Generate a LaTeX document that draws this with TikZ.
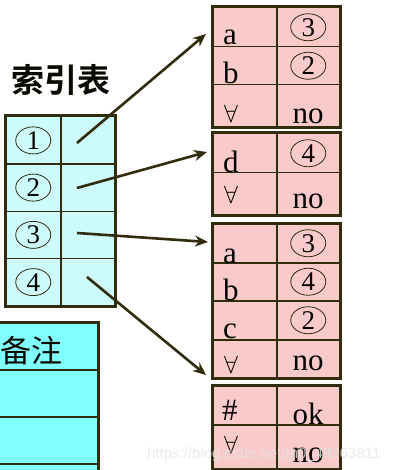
\documentclass[tikz,border=0pt]{standalone}
\usepackage{fontspec}
\setmainfont{Liberation Serif}
\newfontfamily\cjkb{Noto Sans CJK SC Bold}
\newfontfamily\cjk{Noto Sans CJK SC}
\newfontfamily\wmfont{Liberation Sans}
\usetikzlibrary{arrows.meta,shapes.geometric}
\definecolor{edge}{RGB}{48,44,12}
\definecolor{pinkc}{RGB}{248,202,202}
\definecolor{lcyan}{RGB}{205,250,250}
\definecolor{bcyan}{RGB}{128,255,255}
\tikzset{
  cell/.style={draw=edge, line width=1.5pt, inner sep=0pt, anchor=north west},
  pcell/.style={cell, fill=pinkc},
  icell/.style={cell, fill=lcyan},
  bcell/.style={cell, fill=bcyan},
  frame/.style={draw=edge, line width=3pt},
  cnum/.style={draw=edge, line width=0.8pt, ellipse, minimum width=35pt, minimum height=27pt, inner sep=0pt, font=\fontsize{27}{27}\selectfont, text=black!90!edge},
  let/.style={anchor=base west, inner sep=0pt, font=\fontsize{31}{31}\selectfont, text=black!90!edge},
  fa/.style={let, font=\fontsize{29}{29}\selectfont},
  rwd/.style={anchor=base, inner sep=0pt, font=\fontsize{31}{31}\selectfont, text=black!90!edge},
  link/.style={draw=edge, line width=2.6pt, -{Stealth[length=13pt,width=11pt]}},
}
\begin{document}
\begin{tikzpicture}[x=1pt,y=-1pt]
\useasboundingbox (0,0) rectangle (402,470);
\clip (0,0) rectangle (402,470);
\fill[white] (0,0) rectangle (402,470);

% title
\node[font=\cjkb\fontsize{33}{33}\selectfont, text=black!80!edge, inner sep=0pt] (title) at (61,80) {索引表};

% index table
\foreach \i/\ya/\yb in {1/116/163.25,2/163.25/210.5,3/210.5/257.75,4/257.75/305}{
  \node[icell, minimum width=55pt, minimum height={\yb-\ya}] (il\i) at (5,\ya) {};
  \node[icell, minimum width=54pt, minimum height={\yb-\ya}] (ir\i) at (60,\ya) {};
  \node[cnum] (in\i) at (il\i.center) {\i};
}
\draw[frame] (il1.north west) rectangle (ir4.south east);

% bottom-left table
\foreach \i/\ya in {1/322,2/369,3/416,4/463}{
  \node[bcell, minimum width=117pt, minimum height=47pt] (bt\i) at (-20,\ya) {};
}
\draw[frame] (bt1.north west) rectangle (bt4.south east);
\node[font=\cjk\fontsize{31}{31}\selectfont, text=black!80!edge, inner sep=0pt] (bz) at (31,351) {备注};

% T1
\node[pcell, minimum width=64pt, minimum height=39pt] (a1l) at (212,7) {};
\node[pcell, minimum width=63pt, minimum height=39pt] (a1r) at (276,7) {};
\node[pcell, minimum width=64pt, minimum height=38pt] (a2l) at (212,46) {};
\node[pcell, minimum width=63pt, minimum height=38pt] (a2r) at (276,46) {};
\node[pcell, minimum width=64pt, minimum height=42pt] (a3l) at (212,84) {};
\node[pcell, minimum width=63pt, minimum height=42pt] (a3r) at (276,84) {};
\draw[frame] (a1l.north west) rectangle (a3r.south east);
\node[let] (a1t) at (223,45) {a};
\node[cnum] (a1n) at (a1r.center) {3};
\node[let] (a2t) at (223,84) {b};
\node[cnum] (a2n) at (a2r.center) {2};
\node[fa] (a3t) at (224,123) {$\forall$};
\node[rwd] (a3n) at (308,124) {no};

% T2
\node[pcell, minimum width=64pt, minimum height=39pt] (b1l) at (212,133) {};
\node[pcell, minimum width=63pt, minimum height=39pt] (b1r) at (276,133) {};
\node[pcell, minimum width=64pt, minimum height=42pt] (b2l) at (212,172) {};
\node[pcell, minimum width=63pt, minimum height=42pt] (b2r) at (276,172) {};
\draw[frame] (b1l.north west) rectangle (b2r.south east);
\node[let] (b1t) at (223,173) {d};
\node[cnum] (b1n) at (b1r.center) {4};
\node[fa] (b2t) at (224,204) {$\forall$};
\node[rwd] (b2n) at (308,208) {no};

% T3
\node[pcell, minimum width=64pt, minimum height=39pt] (c1l) at (212,223) {};
\node[pcell, minimum width=63pt, minimum height=39pt] (c1r) at (276,223) {};
\node[pcell, minimum width=64pt, minimum height=38pt] (c2l) at (212,262) {};
\node[pcell, minimum width=63pt, minimum height=38pt] (c2r) at (276,262) {};
\node[pcell, minimum width=64pt, minimum height=39pt] (c3l) at (212,300) {};
\node[pcell, minimum width=63pt, minimum height=39pt] (c3r) at (276,300) {};
\node[pcell, minimum width=64pt, minimum height=38pt] (c4l) at (212,339) {};
\node[pcell, minimum width=63pt, minimum height=38pt] (c4r) at (276,339) {};
\draw[frame] (c1l.north west) rectangle (c4r.south east);
\node[let] (c1t) at (223,263) {a};
\node[cnum] (c1n) at (c1r.center) {3};
\node[let] (c2t) at (223,300) {b};
\node[cnum] (c2n) at (c2r.center) {4};
\node[let] (c3t) at (223,338) {c};
\node[cnum] (c3n) at (c3r.center) {2};
\node[fa] (c4t) at (224,373) {$\forall$};
\node[rwd] (c4n) at (308,370) {no};

% T4
\node[pcell, minimum width=64pt, minimum height=39pt] (d1l) at (212,385) {};
\node[pcell, minimum width=63pt, minimum height=39pt] (d1r) at (276,385) {};
\node[pcell, minimum width=64pt, minimum height=44pt] (d2l) at (212,424) {};
\node[pcell, minimum width=63pt, minimum height=44pt] (d2r) at (276,424) {};
\draw[frame] (d1l.north west) rectangle (d2r.south east);
\node[let] (d1t) at (222,420) {\#};
\node[rwd] (d1n) at (308,424) {ok};
\node[fa] (d2t) at (224,453) {$\forall$};
\node[rwd] (d2n) at (308,462) {no};

% connectors
\coordinate (s1) at (77,143);
\coordinate (s2) at (77,188);
\coordinate (s3) at (77,233);
\coordinate (s4) at (87,277);
\coordinate (e1) at (206,34);
\coordinate (e2) at (207,152);
\coordinate (e3) at (208,242);
\coordinate (e4) at (206,375);
\draw[link] (s1) -- (e1);
\draw[link] (s2) -- (e2);
\draw[link] (s3) -- (e3);
\draw[link] (s4) -- (e4);

% watermark
\node[anchor=base west, inner sep=0pt, font=\wmfont\fontsize{15}{15}\selectfont, text=white!80!gray, opacity=0.8] (wm) at (147,458) {https://blog.csdn.net/m0\_49263811};
\end{tikzpicture}
\end{document}
